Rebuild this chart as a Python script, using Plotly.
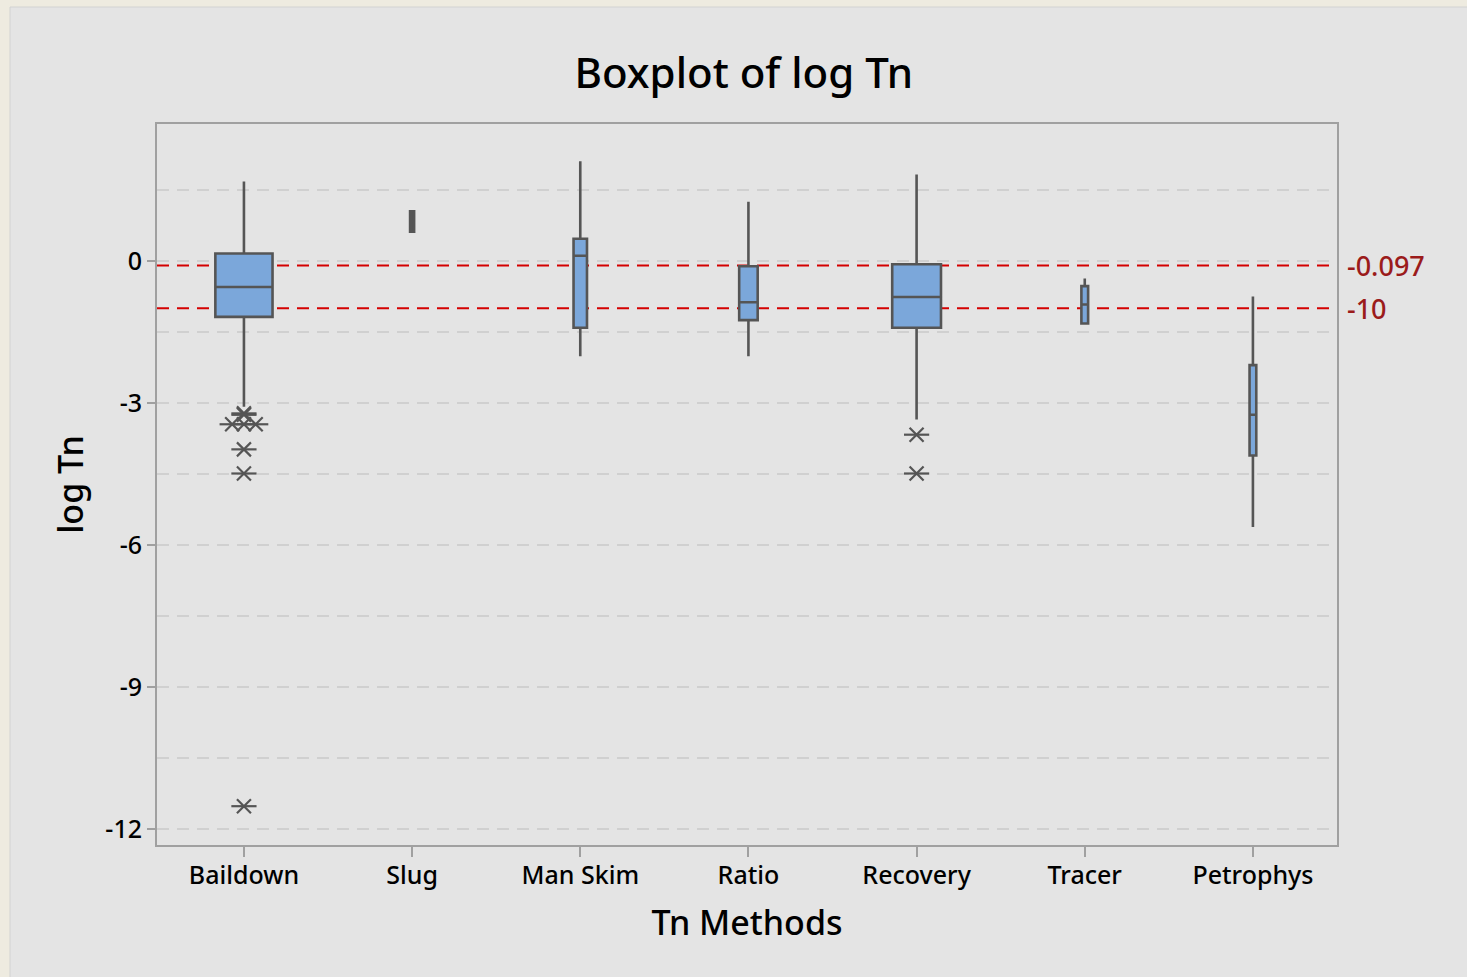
import plotly.graph_objects as go

# Box summaries for each method (log Tn)
methods = ["Baildown", "Slug", "Man Skim", "Ratio", "Recovery", "Tracer", "Petrophys"]
q1_vals = [-1.18, 0.62, -1.41, -1.25, -1.41, -1.32, -4.11]
median_vals = [-0.55, 0.84, 0.11, -0.87, -0.76, -0.92, -3.25]
q3_vals = [0.16, 1.05, 0.47, -0.11, -0.07, -0.53, -2.20]
lower_whisker = [-3.08, 0.62, -2.01, -2.01, -3.35, -1.32, -5.62]
upper_whisker = [1.68, 1.05, 2.11, 1.25, 1.83, -0.37, -0.75]
# relative box widths (category units)
box_widths = [0.34, 0.024, 0.08, 0.11, 0.29, 0.04, 0.04]

# Outliers
outlier_method = ["Baildown"] * 8 + ["Recovery"] * 2
outlier_values = [-3.22, -3.25, -3.45, -3.45, -3.45, -3.98, -4.49, -11.52, -3.67, -4.49]

# Reference lines
ref_values = [-0.097, -1.0]
ref_labels = ["-0.097", "-10"]

y_ticks = [0, -3, -6, -9, -12]

FONT = "Noto Sans"
WEIGHT = 500
BOX_FILL = "#7ba7da"
EDGE = "#555555"
GRID = "#d0d0d0"
W, H = 1467, 977
L, R, T, B = 157, 130, 124, 132

fig = go.Figure()

for i, m in enumerate(methods):
    fill = EDGE if box_widths[i] < 0.03 else BOX_FILL
    fig.add_trace(go.Box(
        x=[i],
        q1=[q1_vals[i]], median=[median_vals[i]], q3=[q3_vals[i]],
        lowerfence=[lower_whisker[i]], upperfence=[upper_whisker[i]],
        width=box_widths[i],
        fillcolor=fill,
        line=dict(color=EDGE, width=2.6),
        whiskerwidth=0,
        boxpoints=False,
        hoverinfo="skip",
        showlegend=False,
    ))

# spread repeated outlier values sideways so each symbol stays visible
ox, oy = [], []
groups = {}
for m, v in zip(outlier_method, outlier_values):
    groups.setdefault((m, v), []).append(v)
for (m, v), vals in groups.items():
    n = len(vals)
    for k in range(n):
        ox.append(methods.index(m) + (k - (n - 1) / 2) * 0.07)
        oy.append(v)

for sym, size in [("x-thin-open", 14), ("line-ew-open", 18)]:
    fig.add_trace(go.Scatter(
        x=ox, y=oy, mode="markers",
        marker=dict(symbol=sym, size=size, color=EDGE, line=dict(color=EDGE, width=2.2)),
        hoverinfo="skip", showlegend=False,
    ))

# outer panel
def px_x(p):
    return (p - L) / (W - L - R)

def px_y(p):
    return (H - B - p) / (H - T - B)

shapes = [
    dict(type="rect", xref="paper", yref="paper", layer="below",
         x0=px_x(10), x1=px_x(W + 5), y0=px_y(H + 5), y1=px_y(7),
         fillcolor="#e4e4e4", line=dict(color="#d2d2d2", width=1)),
]
for v in ref_values:
    shapes.append(dict(type="line", xref="paper", yref="y", layer="below",
                       x0=0, x1=1, y0=v, y1=v,
                       line=dict(color="#d40000", width=2, dash="12px,8px")))

annotations = []
for v, t in zip(ref_values, ref_labels):
    annotations.append(dict(x=1, xref="paper", y=v, yref="y", text=t,
                            showarrow=False, xanchor="left", yanchor="middle",
                            xshift=8, font=dict(family=FONT, size=27, weight=WEIGHT,
                                                color="#9b1b1b")))

fig.update_layout(
    width=W, height=H,
    margin=dict(l=L, r=R, t=T, b=B),
    paper_bgcolor="#eeebe0",
    plot_bgcolor="white",
    shapes=shapes,
    annotations=annotations,
    boxmode="overlay",
    title=dict(text="Boxplot of log Tn", x=0.507, xref="container", xanchor="center",
               y=1 - 73 / H, yref="container", yanchor="middle",
               font=dict(family=FONT, size=42, weight=WEIGHT, color="black")),
    xaxis=dict(
        range=[-0.517, 6.5],
        tickmode="array", tickvals=list(range(len(methods))), ticktext=methods,
        ticks="outside", ticklen=10, tickwidth=2, tickcolor="#a0a0a0",
        ticklabelstandoff=-3,
        tickfont=dict(family=FONT, size=25, weight=WEIGHT, color="black"),
        showline=True, linecolor="#a0a0a0", linewidth=2, mirror=True,
        showgrid=False, zeroline=False,
        title=dict(text="Tn Methods", standoff=21,
                   font=dict(family=FONT, size=34, weight=WEIGHT, color="black")),
    ),
    yaxis=dict(
        range=[-12.34, 2.895],
        tickmode="array", tickvals=y_ticks, ticktext=[str(t) for t in y_ticks],
        ticks="outside", ticklen=8, tickwidth=2, tickcolor="#a0a0a0",
        tickfont=dict(family=FONT, size=25, weight=WEIGHT, color="black"),
        showline=True, linecolor="#a0a0a0", linewidth=2, mirror=True,
        showgrid=True, gridcolor=GRID, gridwidth=2, griddash="12px,8px",
        zeroline=False,
        minor=dict(dtick=1.5, tick0=0, showgrid=True, gridcolor=GRID,
                   gridwidth=2, griddash="12px,8px", ticks=""),
        title=dict(text="log Tn", standoff=11,
                   font=dict(family=FONT, size=34, weight=WEIGHT, color="black")),
    ),
)

fig.write_html("out.html")
